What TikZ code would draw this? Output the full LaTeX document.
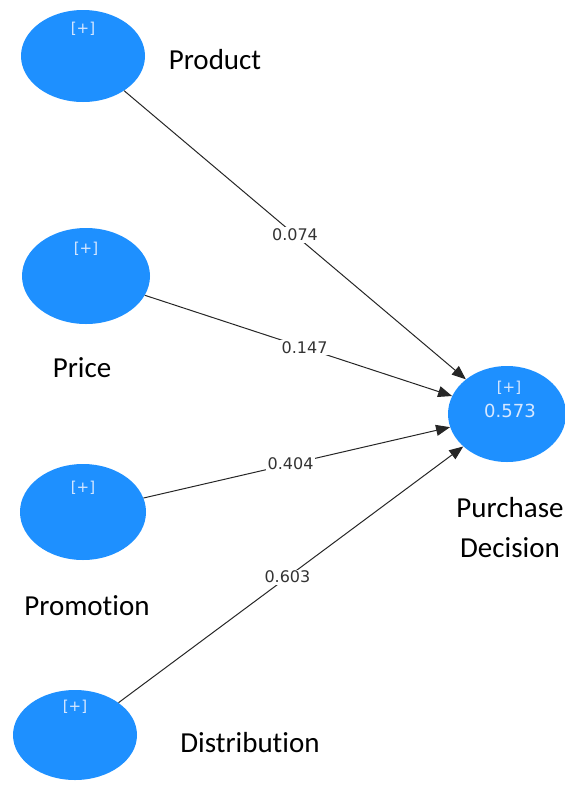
\documentclass[tikz,border=0pt]{standalone}
\usepackage{fontspec}
\setmainfont{Carlito}[Ligatures=NoCommon]
\newfontfamily\pathfont{DejaVu Sans}
\usetikzlibrary{shapes.geometric,arrows.meta}
\definecolor{lvblue}{RGB}{30,144,255}
\definecolor{plusgray}{RGB}{215,232,255}
\tikzset{
  latent/.style={ellipse, fill=lvblue, draw=none, minimum width=124pt, minimum height=92pt, inner sep=0pt},
  tag/.style={font=\pathfont\fontsize{15}{17}\selectfont, text=plusgray, inner sep=0pt},
  caption/.style={font=\fontsize{29}{33}\selectfont, inner sep=0pt},
  path/.style={draw=black!85, line width=1pt, -{Triangle[length=14pt,width=11pt]}},
  coef/.style={font=\pathfont\fontsize{16}{18}\selectfont, text=black!80, fill=white, inner sep=1.5pt}
}
\begin{document}
\begin{tikzpicture}[x=1pt,y=-1pt]
  \useasboundingbox (0,0) rectangle (565,785);
  % constructs
  \node[latent] (prod) at (83,56) {};
  \node[latent, minimum width=128pt, minimum height=96pt] (price) at (86,276) {};
  \node[latent, minimum width=126pt, minimum height=96pt] (promo) at (83,512) {};
  \node[latent, minimum height=90pt] (dist) at (75,735) {};
  \node[latent, minimum width=118pt, minimum height=96pt] (pd) at (507,414) {};
  % collapsed indicator markers and R-squared
  \node[tag] (prodtag) at (83,29) {[+]};
  \node[tag] (pricetag) at (86,249) {[+]};
  \node[tag] (promotag) at (83,488) {[+]};
  \node[tag] (disttag) at (75,707) {[+]};
  \node[tag] (pdtag) at (509,388) {[+]};
  \node[tag, font=\pathfont\fontsize{18}{20}\selectfont] (pdr2) at (510,411) {0.573};
  % construct captions
  \node[caption] (prodcap) at (215,60) {Product};
  \node[caption] (pricecap) at (82,368) {Price};
  \node[caption] (promocap) at (87,606) {Promotion};
  \node[caption] (distcap) at (250,743) {Distribution};
  \node[caption] (pdcap1) at (510,508) {Purchase};
  \node[caption] (pdcap2) at (510,548) {Decision};
  % structural paths with coefficients
  \draw[path] (prod) -- node[coef, pos=0.5] {0.074} (pd);
  \draw[path] (price) -- node[coef, pos=0.52] {0.147} (pd);
  \draw[path] (promo) -- node[coef, pos=0.48] {0.404} (pd);
  \draw[path] (dist) -- node[coef, pos=0.49] {0.603} (pd);
\end{tikzpicture}
\end{document}
